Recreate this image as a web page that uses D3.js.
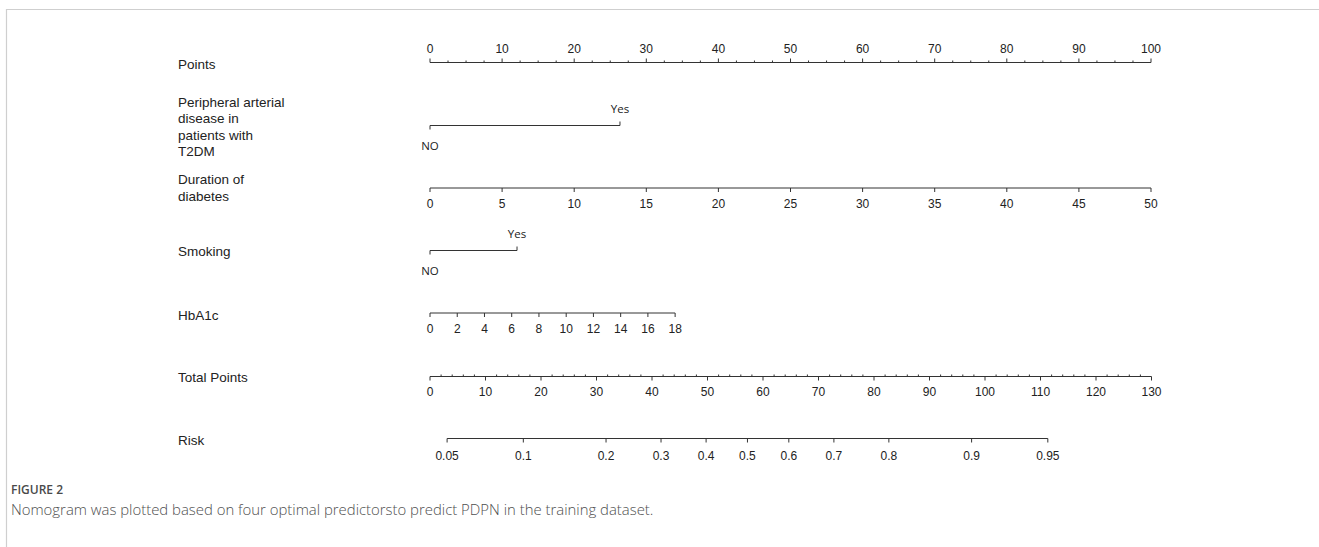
<!DOCTYPE html>
<html>
<head>
<meta charset="utf-8">
<script src="https://cdn.jsdelivr.net/npm/d3@7"></script>
<style>
  html, body { margin: 0; padding: 0; background: #fff; }
  svg { display: block; }
</style>
</head>
<body>
<svg id="chart" width="1319" height="547"></svg>
<script>
// ---------------- data ----------------
const rowLabels = [
  ["Points"],
  ["Peripheral arterial", "disease in", "patients with", "T2DM"],
  ["Duration of", "diabetes"],
  ["Smoking"],
  ["HbA1c"],
  ["Total Points"],
  ["Risk"]
];
const pointsTicks = [0, 10, 20, 30, 40, 50, 60, 70, 80, 90, 100];
const pointsMinorStep = 2.5;

const padLevels = ["NO", "Yes"];
const padPoints = [0, 26.35];

const durationTicks = [0, 5, 10, 15, 20, 25, 30, 35, 40, 45, 50];
const durationPoints = [0, 100];          // points at 0 and 50 years

const smokingLevels = ["NO", "Yes"];
const smokingPoints = [0, 12.07];

const hba1cTicks = [0, 2, 4, 6, 8, 10, 12, 14, 16, 18];
const hba1cPoints = [0, 34];              // points at 0 and 18

const totalTicks = [0, 10, 20, 30, 40, 50, 60, 70, 80, 90, 100, 110, 120, 130];
const totalMinorStep = 2;

const riskTicks = [0.05, 0.1, 0.2, 0.3, 0.4, 0.5, 0.6, 0.7, 0.8, 0.9, 0.95];
const riskModel = [57.2, 18.38];          // total points at 50% risk, points per logit unit

const captionTitle = "FIGURE 2";
const captionText = "Nomogram was plotted based on four optimal predictorsto predict PDPN in the training dataset.";

// ---------------- layout ----------------
const svg = d3.select("#chart");
const INK = "#333";
const TXT = "#222";
const tickFont = "'Liberation Sans Narrow', 'Arial Narrow', 'Liberation Sans', Arial, sans-serif";
const labelFont = "'Liberation Sans', Arial, sans-serif";
const levelFont = "'Open Sans', 'Noto Sans', sans-serif";

const xPts = d3.scaleLinear().domain([0, 100]).range([430, 1151]);
const xTot = d3.scaleLinear().domain([0, 130]).range([430, 1151.5]);
const xDur = d3.scaleLinear().domain([0, 50]).range(durationPoints.map(xPts));
const xHb = d3.scaleLinear().domain([0, 18]).range(hba1cPoints.map(xPts));
const logit = p => Math.log(p / (1 - p));
const xRisk = d3.scaleLinear()
  .domain([0, 1])
  .range([xTot(riskModel[0]), xTot(riskModel[0] + riskModel[1])]);

// frame
svg.append("line").attr("x1", 6).attr("x2", 1319).attr("y1", 9.5).attr("y2", 9.5)
  .attr("stroke", "#cfcfcf").attr("stroke-width", 1.2);
svg.append("line").attr("x1", 6.5).attr("x2", 6.5).attr("y1", 9).attr("y2", 547)
  .attr("stroke", "#cfcfcf").attr("stroke-width", 1.2);

// row labels
const labelY = [69, 106.5, 184, 255.5, 320, 382, 445];
rowLabels.forEach((lines, i) => {
  const t = svg.append("text")
    .attr("x", 178).attr("y", labelY[i])
    .attr("font-family", labelFont).attr("font-size", 13.5).attr("fill", TXT);
  lines.forEach((ln, j) => {
    t.append("tspan").attr("x", 178).attr("dy", j === 0 ? 0 : 16.5).text(ln);
  });
});

function hline(g, x0, x1, y) {
  g.append("line").attr("x1", x0).attr("x2", x1).attr("y1", y).attr("y2", y)
    .attr("stroke", INK).attr("stroke-width", 1);
}
function ticks(g, xs, y, len) {
  g.selectAll(null).data(xs).enter().append("line")
    .attr("x1", d => d).attr("x2", d => d)
    .attr("y1", y).attr("y2", y + len)
    .attr("stroke", INK).attr("stroke-width", 1);
}
function labels(g, items, y, font, size) {
  g.selectAll(null).data(items).enter().append("text")
    .attr("x", d => d.x).attr("y", y)
    .attr("text-anchor", "middle")
    .attr("font-family", font).attr("font-size", size).attr("fill", TXT)
    .text(d => d.t);
}

const g = svg.append("g");

// Points axis (labels above, ticks up)
{
  const y = 62.5;
  hline(g, xPts(0), xPts(100), y);
  ticks(g, pointsTicks.map(xPts), y, -4);
  const minor = d3.range(0, 100.01, pointsMinorStep).filter(v => v % 10 !== 0);
  ticks(g, minor.map(xPts), y, -2);
  labels(g, pointsTicks.map(v => ({ x: xPts(v), t: String(v) })), 53, tickFont, 12);
}

// categorical rows
function catRow(levels, pts, y, yAbove, yBelow) {
  const x0 = xPts(pts[0]), x1 = xPts(pts[1]);
  hline(g, x0, x1, y);
  ticks(g, [x0], y, 4);
  ticks(g, [x1], y, -4);
  labels(g, [{ x: x0, t: levels[0] }], yBelow, levelFont, 11.5);
  labels(g, [{ x: x1, t: levels[1] }], yAbove, levelFont, 11.5);
}
catRow(padLevels, padPoints, 125.5, 113, 149.5);
catRow(smokingLevels, smokingPoints, 250.5, 237.5, 275);

// Duration
{
  const y = 188;
  hline(g, xDur(0), xDur(50), y);
  ticks(g, durationTicks.map(xDur), y, 4);
  labels(g, durationTicks.map(v => ({ x: xDur(v), t: String(v) })), 207.5, tickFont, 12);
}

// HbA1c
{
  const y = 313;
  hline(g, xHb(0), xHb(18), y);
  ticks(g, hba1cTicks.map(xHb), y, 4);
  labels(g, hba1cTicks.map(v => ({ x: xHb(v), t: String(v) })), 332.5, tickFont, 12);
}

// Total points
{
  const y = 376.5;
  hline(g, xTot(0), xTot(130), y);
  ticks(g, totalTicks.map(xTot), y, 4);
  const minor = d3.range(0, 130.01, totalMinorStep).filter(v => v % 10 !== 0);
  ticks(g, minor.map(xTot), y, -2);
  labels(g, totalTicks.map(v => ({ x: xTot(v), t: String(v) })), 396, tickFont, 12);
}

// Risk
{
  const y = 438.5;
  const xs = riskTicks.map(p => xRisk(logit(p)));
  hline(g, xs[0], xs[xs.length - 1], y);
  ticks(g, xs, y, 4);
  labels(g, riskTicks.map(p => ({ x: xRisk(logit(p)), t: String(p) })), 459.5, tickFont, 12);
}

// caption
svg.append("text").attr("x", 11).attr("y", 494)
  .attr("font-family", levelFont).attr("font-size", 12).attr("font-weight", 600)
  .attr("fill", "#4a4a4a").text(captionTitle);
svg.append("text").attr("x", 11).attr("y", 515)
  .attr("font-family", levelFont).attr("font-size", 14.9).attr("font-weight", 300)
  .attr("fill", "#4f4f4f").text(captionText);
</script>
</body>
</html>
